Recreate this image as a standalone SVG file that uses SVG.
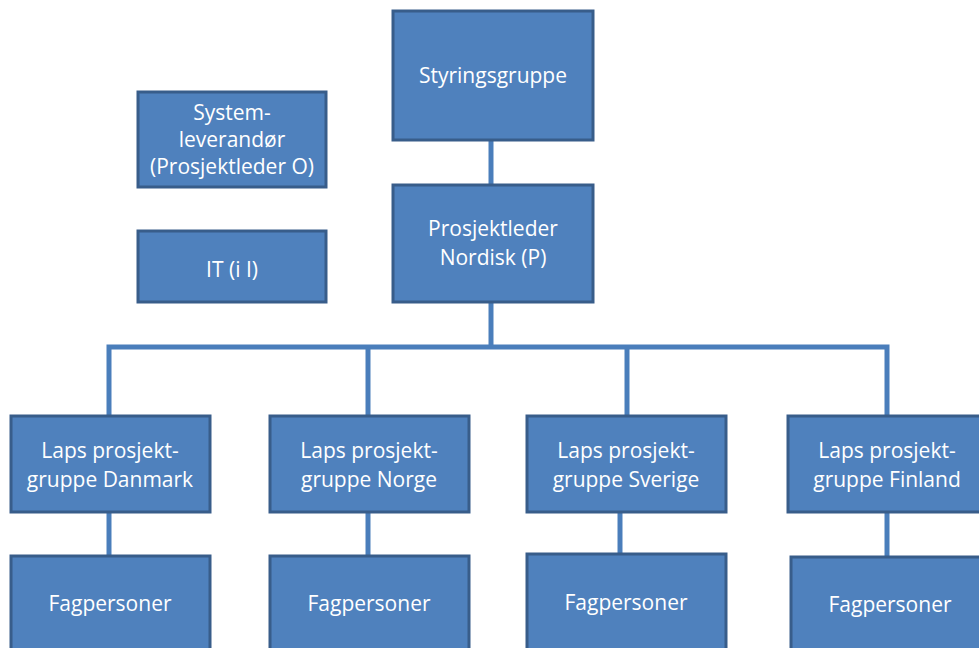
<svg xmlns="http://www.w3.org/2000/svg" width="979" height="648" viewBox="0 0 979 648">
  <style>
    .box { fill: #4F81BD; stroke: #385D8A; stroke-width: 3; }
    .lbl { fill: #FFFFFF; font-family: "Open Sans", "Liberation Sans", sans-serif; font-size: 21px; text-anchor: middle; }
    .conn { stroke: #4A7EBB; stroke-width: 5; fill: none; }
  </style>
  <rect width="979" height="648" fill="#FFFFFF"/>

  <g id="connectors">
    <line class="conn" x1="491" y1="140" x2="491" y2="185"/>
    <line class="conn" x1="491" y1="302" x2="491" y2="347"/>
    <polyline class="conn" points="109,416 109,347 887,347 887,416"/>
    <line class="conn" x1="368" y1="347" x2="368" y2="416"/>
    <line class="conn" x1="627" y1="347" x2="627" y2="416"/>
    <line class="conn" x1="109" y1="512" x2="109" y2="556"/>
    <line class="conn" x1="368" y1="512" x2="368" y2="556"/>
    <line class="conn" x1="620" y1="512" x2="620" y2="554"/>
    <line class="conn" x1="887" y1="512" x2="887" y2="557"/>
  </g>

  <g id="styringsgruppe">
    <rect class="box" x="393" y="11" width="200" height="129"/>
    <text class="lbl" x="493" y="83">Styringsgruppe</text>
  </g>

  <g id="prosjektleder-nordisk">
    <rect class="box" x="393" y="185" width="200" height="117"/>
    <text class="lbl" x="493" y="236">Prosjektleder</text>
    <text class="lbl" x="493" y="265">Nordisk (P)</text>
  </g>

  <g id="systemleverandor">
    <rect class="box" x="138" y="92" width="188" height="95"/>
    <text class="lbl" x="232" y="120">System-</text>
    <text class="lbl" x="232" y="147">leverandør</text>
    <text class="lbl" x="232" y="174">(Prosjektleder O)</text>
  </g>

  <g id="it">
    <rect class="box" x="138" y="231" width="188" height="71"/>
    <text class="lbl" x="232" y="277">IT (i I)</text>
  </g>

  <g id="gruppe-danmark">
    <rect class="box" x="11" y="416" width="199" height="96"/>
    <text class="lbl" x="110" y="458">Laps prosjekt-</text>
    <text class="lbl" x="110" y="487">gruppe Danmark</text>
  </g>

  <g id="gruppe-norge">
    <rect class="box" x="270" y="416" width="199" height="96"/>
    <text class="lbl" x="369" y="458">Laps prosjekt-</text>
    <text class="lbl" x="369" y="487">gruppe Norge</text>
  </g>

  <g id="gruppe-sverige">
    <rect class="box" x="527" y="416" width="199" height="96"/>
    <text class="lbl" x="626" y="458">Laps prosjekt-</text>
    <text class="lbl" x="626" y="487">gruppe Sverige</text>
  </g>

  <g id="gruppe-finland">
    <rect class="box" x="788" y="416" width="199" height="96"/>
    <text class="lbl" x="887" y="458">Laps prosjekt-</text>
    <text class="lbl" x="887" y="487">gruppe Finland</text>
  </g>

  <g id="fag-danmark">
    <rect class="box" x="11" y="556" width="199" height="100"/>
    <text class="lbl" x="110" y="611">Fagpersoner</text>
  </g>

  <g id="fag-norge">
    <rect class="box" x="270" y="556" width="199" height="100"/>
    <text class="lbl" x="369" y="611">Fagpersoner</text>
  </g>

  <g id="fag-sverige">
    <rect class="box" x="527" y="554" width="199" height="100"/>
    <text class="lbl" x="626" y="610">Fagpersoner</text>
  </g>

  <g id="fag-finland">
    <rect class="box" x="791" y="557" width="199" height="100"/>
    <text class="lbl" x="890" y="612">Fagpersoner</text>
  </g>
</svg>
